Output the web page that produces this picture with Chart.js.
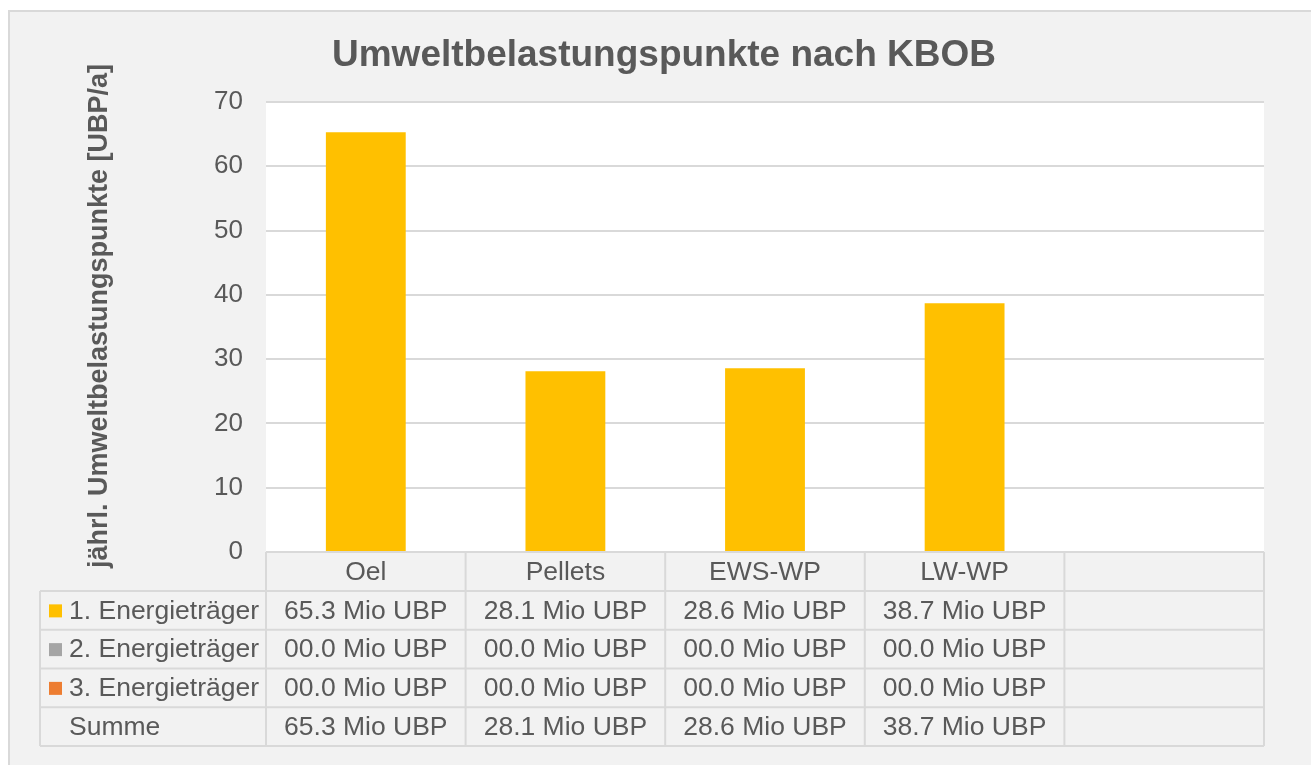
<!DOCTYPE html>
<html>
<head>
<meta charset="utf-8">
<script src="https://cdn.jsdelivr.net/npm/chart.js@4"></script>
<style>
  html, body { margin: 0; padding: 0; background: #ffffff; }
  #wrap { width: 1311px; height: 765px; }
</style>
</head>
<body>
<div id="wrap"><canvas id="myChart" width="1311" height="765"></canvas></div>
<script>
const categories = ["Oel", "Pellets", "EWS-WP", "LW-WP", ""];
const energie1 = [65.3, 28.1, 28.6, 38.7, null];
const energie2 = [0, 0, 0, 0, null];
const energie3 = [0, 0, 0, 0, null];
const seriesNames = ["1. Energieträger", "2. Energieträger", "3. Energieträger"];
const seriesColors = ["#FFC000", "#A5A5A5", "#ED7D31"];
const yTicks = [0, 10, 20, 30, 40, 50, 60, 70];

const textColor = "#595959";
const lineColor = "#D9D9D9";
const fontName = "'Liberation Sans', Arial, sans-serif";

function fmt(v) {
    if (v === null || v === undefined) return "";
    return v.toFixed(1).padStart(4, "0") + " Mio UBP";
}

// background, frame, title and y-axis title
const framePlugin = {
    id: "frame",
    beforeDraw(chart) {
        const ctx = chart.ctx;
        const area = chart.chartArea;
        ctx.save();
        ctx.fillStyle = "#ffffff";
        ctx.fillRect(0, 0, chart.width, chart.height);
        ctx.fillStyle = "#F2F2F2";
        ctx.fillRect(8, 10, chart.width, chart.height);
        ctx.strokeStyle = lineColor;
        ctx.lineWidth = 2;
        ctx.strokeRect(9, 11, chart.width, chart.height);
        ctx.fillStyle = "#ffffff";
        ctx.fillRect(area.left, area.top, area.right - area.left, area.bottom - area.top);

        ctx.fillStyle = textColor;
        ctx.font = "bold 37px " + fontName;
        ctx.textAlign = "center";
        ctx.textBaseline = "middle";
        ctx.fillText("Umweltbelastungspunkte nach KBOB", 664, 56);

        ctx.translate(100, 316);
        ctx.rotate(-Math.PI / 2);
        ctx.font = "bold 27px " + fontName;
        ctx.fillText("jährl. Umweltbelastungspunkte [UBP/a]", 0, 0);
        ctx.restore();
    }
};

// data table under the plot
const tablePlugin = {
    id: "datatable",
    afterDraw(chart) {
        const ctx = chart.ctx;
        const x = chart.scales.x;
        const area = chart.chartArea;
        const colW = (area.right - area.left) / categories.length;
        const labelLeft = 40;
        const headerTop = area.bottom;
        const headerH = 39;
        const rowH = 38.75;
        const rows = [
            { name: seriesNames[0], color: seriesColors[0], values: energie1 },
            { name: seriesNames[1], color: seriesColors[1], values: energie2 },
            { name: seriesNames[2], color: seriesColors[2], values: energie3 },
            { name: "Summe", color: null, values: energie1.map((v, i) => v === null ? null : v + energie2[i] + energie3[i]) }
        ];
        const tableBottom = headerTop + headerH + rows.length * rowH;

        ctx.save();
        ctx.strokeStyle = lineColor;
        ctx.lineWidth = 2;
        ctx.beginPath();
        // header row
        ctx.moveTo(area.left, headerTop);
        ctx.lineTo(area.right, headerTop);
        for (let r = 0; r <= rows.length; r++) {
            const y = headerTop + headerH + r * rowH;
            ctx.moveTo(labelLeft, y);
            ctx.lineTo(area.right, y);
        }
        ctx.moveTo(labelLeft, headerTop + headerH);
        ctx.lineTo(labelLeft, tableBottom);
        for (let c = 0; c <= categories.length; c++) {
            const xx = area.left + c * colW;
            ctx.moveTo(xx, headerTop);
            ctx.lineTo(xx, tableBottom);
        }
        ctx.stroke();

        ctx.fillStyle = textColor;
        ctx.font = "26.5px " + fontName;
        ctx.textBaseline = "middle";
        ctx.textAlign = "center";
        categories.forEach((cat, i) => {
            ctx.fillText(cat, x.getPixelForValue(i), headerTop + headerH / 2 + 1);
        });

        rows.forEach((row, r) => {
            const yc = headerTop + headerH + r * rowH + rowH / 2 + 1;
            if (row.color) {
                ctx.fillStyle = row.color;
                ctx.fillRect(49, yc - 7, 13, 13);
            }
            ctx.fillStyle = textColor;
            ctx.textAlign = "left";
            ctx.fillText(row.name, 69, yc);
            ctx.textAlign = "center";
            row.values.forEach((v, i) => {
                ctx.fillText(fmt(v), x.getPixelForValue(i), yc);
            });
        });
        ctx.restore();
    }
};

const datasets = [energie1, energie2, energie3].map((values, i) => ({
    label: seriesNames[i],
    data: values,
    backgroundColor: seriesColors[i],
    borderWidth: 0,
    barPercentage: 0.4,
    categoryPercentage: 1.0
}));

var ctx = document.getElementById('myChart').getContext('2d');
var myChart = new Chart(ctx, {
    type: 'bar',
    data: { labels: categories, datasets: datasets },
    plugins: [framePlugin, tablePlugin],
    options: {
        responsive: false,
        animation: false,
        layout: { padding: { top: 102, left: 0, right: 47, bottom: 213 } },
        plugins: {
            legend: { display: false },
            title: { display: false },
            tooltip: { enabled: false }
        },
        scales: {
            x: {
                stacked: true,
                display: false
            },
            y: {
                stacked: true,
                min: 0,
                max: 70,
                afterFit(scale) { scale.width = 266; },
                afterBuildTicks(scale) { scale.ticks = yTicks.map(v => ({ value: v })); },
                border: { display: false },
                grid: { color: lineColor, lineWidth: 2, drawTicks: false },
                ticks: {
                    color: textColor,
                    padding: 23,
                    font: { family: fontName, size: 26 }
                }
            }
        }
    }
});
</script>
</body>
</html>
